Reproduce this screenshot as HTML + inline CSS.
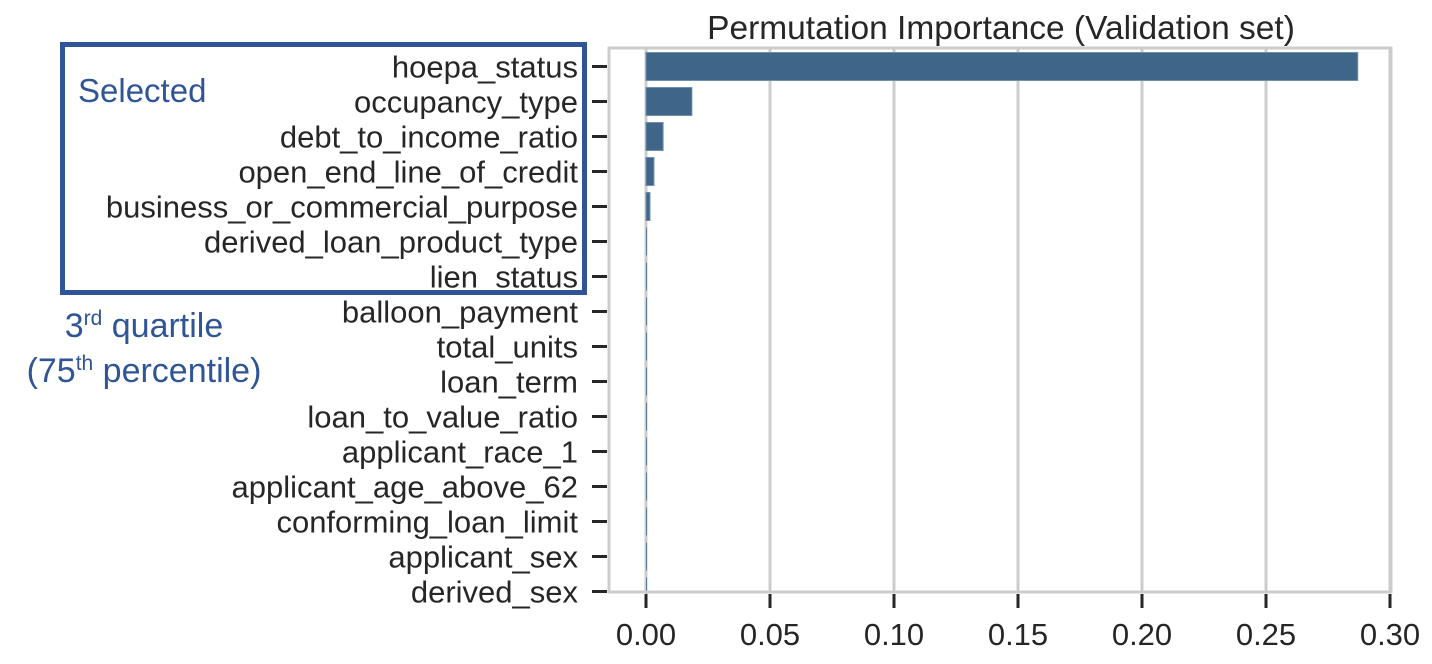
<!DOCTYPE html>
<html><head><meta charset="utf-8"><style>
html,body{margin:0;padding:0;background:#fff;width:1432px;height:664px;overflow:hidden}
svg text{font-family:"Liberation Sans",sans-serif}
</style></head><body>
<svg id="chart" width="1432" height="664" xmlns="http://www.w3.org/2000/svg">
<text x="1001" y="39" font-size="33.5" text-anchor="middle" fill="#262626">Permutation Importance (Validation set)</text>
<g id="grid"></g>
<g id="bars"></g>
<rect x="609" y="48" width="782" height="544" fill="none" stroke="#cccccc" stroke-width="3"/>
<g id="yaxis"></g>
<g id="xaxis"></g>
<rect x="62.5" y="44.5" width="522" height="248" fill="none" stroke="#2f5597" stroke-width="5"/>
<text x="78" y="102" font-size="33" fill="#2f5597">Selected</text>
<text x="144" y="337" font-size="34" fill="#2f5597" text-anchor="middle">3<tspan font-size="21" dy="-12">rd</tspan><tspan dy="12"> quartile</tspan></text>
<text x="144" y="382" font-size="34" fill="#2f5597" text-anchor="middle">(75<tspan font-size="21" dy="-12">th</tspan><tspan dy="12"> percentile)</tspan></text>
</svg>
<script>
const features=["hoepa_status","occupancy_type","debt_to_income_ratio","open_end_line_of_credit","business_or_commercial_purpose","derived_loan_product_type","lien_status","balloon_payment","total_units","loan_term","loan_to_value_ratio","applicant_race_1","applicant_age_above_62","conforming_loan_limit","applicant_sex","derived_sex"];
const importance=[0.287,0.0185,0.0069,0.0032,0.0016,0.0003,0.0002,0.0,0.0,0.0,0.0001,0.0001,0.0001,0.0001,0.0001,0.0001];
const xTicks=[0,0.05,0.10,0.15,0.20,0.25,0.30];
const xTickLabels=["0.00","0.05","0.10","0.15","0.20","0.25","0.30"];
const NS="http://www.w3.org/2000/svg";
const x0=646,xPerUnit=2480,yTop=66.5,rowStep=35,barH=28;
const xs=v=>x0+v*xPerUnit;
const ys=i=>yTop+i*rowStep;
function mk(tag,attrs,parent){const e=document.createElementNS(NS,tag);for(const k in attrs)e.setAttribute(k,attrs[k]);document.getElementById(parent).appendChild(e);return e;}
xTicks.forEach((t,i)=>{
  const g=mk("line",{x1:xs(t),x2:xs(t),y1:49,y2:591,stroke:"#cccccc","stroke-width":3},"grid");
  
  
  const tk=mk("line",{x1:xs(t),x2:xs(t),y1:594,y2:608,stroke:"#262626","stroke-width":3},"xaxis");
  
  
  const tl=mk("text",{x:xs(t),y:645,"font-size":31,"text-anchor":"middle",fill:"#262626"},"xaxis");
  tl.textContent=xTickLabels[i];
  
  
});
features.forEach((f,i)=>{
  const w=Math.max(importance[i]*xPerUnit,0.8);
  const b=mk("rect",{x:x0,y:ys(i)-barH/2,width:w,height:barH,fill:"#3f6589",stroke:"#6f8fb0","stroke-width":importance[i]>0.001?1:0},"bars");
  
  
  const tk=mk("line",{x1:592,x2:607,y1:ys(i),y2:ys(i),stroke:"#262626","stroke-width":3},"yaxis");
  
  
  const tl=mk("text",{x:578,y:ys(i)+11,"font-size":31,"text-anchor":"end",fill:"#262626"},"yaxis");
  tl.textContent=f;
  
  
});
</script>
</body></html>
